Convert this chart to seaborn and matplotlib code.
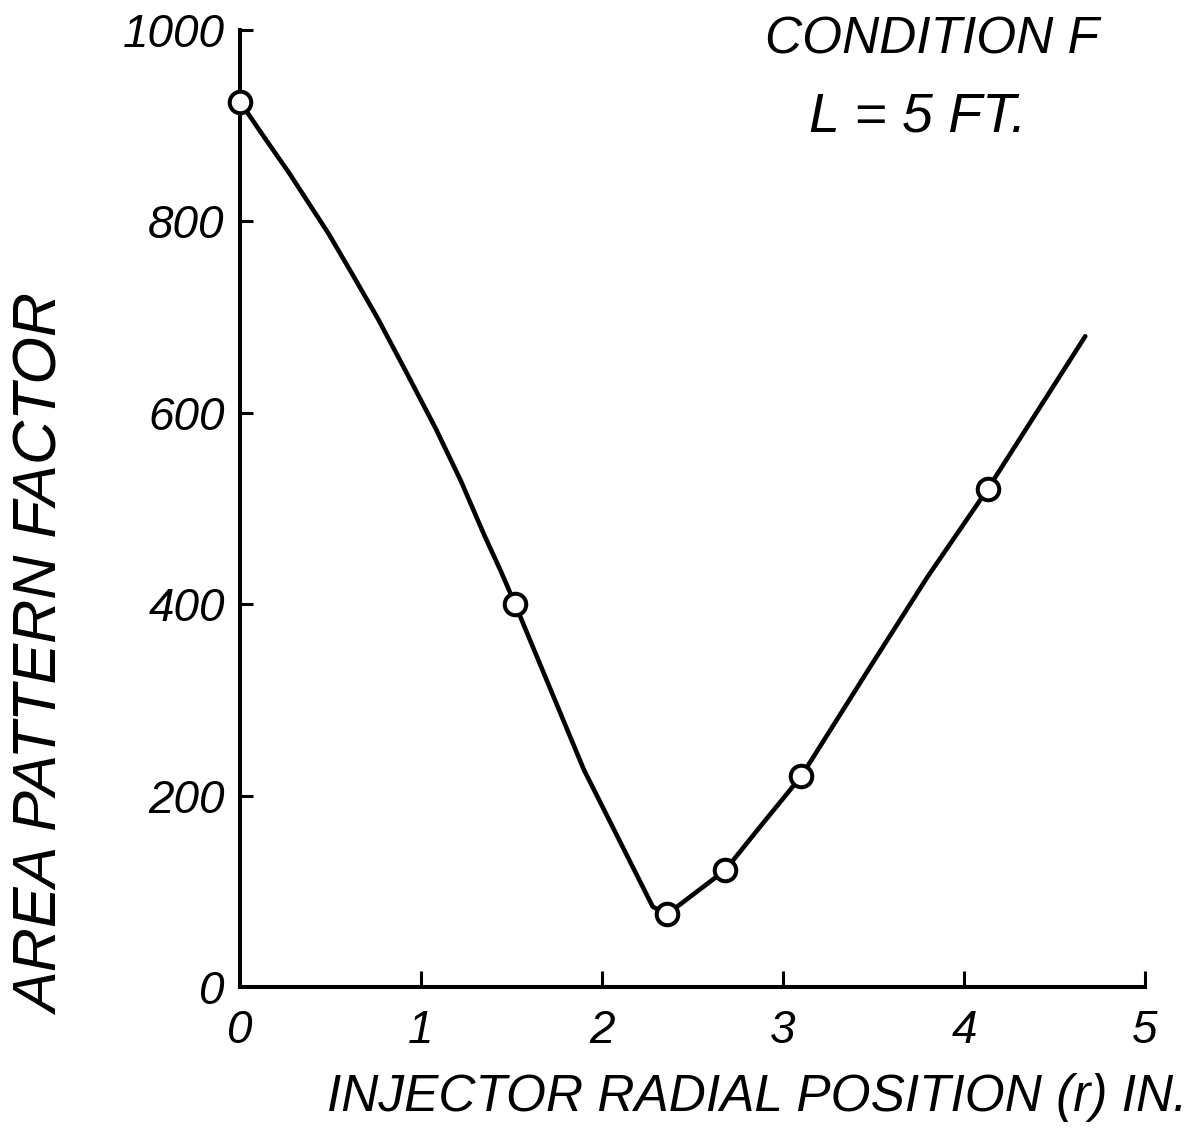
import matplotlib
matplotlib.use("Agg")
import matplotlib.pyplot as plt
import seaborn as sns

# ---- data ----
radial_position = [0.0, 1.52, 2.36, 2.68, 3.10, 4.13]
pattern_factor = [925, 400, 76, 122, 220, 520]

# hand-drawn fair curve
curve_position = [0.0, 0.13, 0.27, 0.38, 0.49, 0.62, 0.76, 0.92, 1.08, 1.22,
                  1.35, 1.44, 1.52, 1.90, 2.28, 2.36,
                  2.68, 2.88, 3.10, 3.50, 3.80, 4.13, 4.67]
curve_factor = [925, 889, 851, 819, 787, 745, 699, 642, 584, 529,
                472, 435, 400, 227, 84, 76,
                122, 169, 220, 340, 429, 520, 680]

x_ticks = [0, 1, 2, 3, 4, 5]
x_tick_labels = ["0", "1", "2", "3", "4", "5"]
y_ticks = [0, 200, 400, 600, 800, 1000]
y_tick_labels = ["0", "200", "400", "600", "800", "1000"]

title_line1 = "CONDITION F"
title_line2 = "L = 5 FT."
x_label = "INJECTOR RADIAL POSITION (r) IN."
y_label = "AREA PATTERN FACTOR"

# ---- style ----
sns.set_theme(style="ticks")
plt.rcParams["font.family"] = ["Liberation Sans", "DejaVu Sans"]
plt.rcParams["font.style"] = "italic"
plt.rcParams["text.color"] = "black"

W, H = 1202, 1132
fig = plt.figure(figsize=(W / 100, H / 100), dpi=100)
fig.patch.set_facecolor("white")
ax = fig.add_axes([240 / W, 1 - 987 / H, 905 / W, 957 / H])
ax.set_facecolor("white")

sns.lineplot(x=curve_position, y=curve_factor, sort=False, estimator=None,
             color="black", linewidth=3.3, ax=ax, clip_on=False, zorder=2)
sns.scatterplot(x=radial_position, y=pattern_factor, s=240, facecolor="white",
                edgecolor="black", linewidth=2.9, ax=ax, clip_on=False, zorder=3)

ax.set_xlim(0, 5)
ax.set_ylim(0, 1000)
ax.set_xticks(x_ticks)
ax.set_xticklabels(x_tick_labels)
ax.set_yticks(y_ticks)
ax.set_yticklabels(y_tick_labels)

sns.despine(ax=ax)
for side in ["left", "bottom"]:
    ax.spines[side].set_linewidth(2.9)
    ax.spines[side].set_color("black")

ax.tick_params(axis="x", direction="in", length=11.5, width=2.2, pad=16,
               labelsize=33, colors="black")
ax.tick_params(axis="y", direction="in", length=9, width=2.2, pad=11,
               labelsize=33, colors="black")
ax.xaxis.get_major_ticks()[0].tick1line.set_visible(False)
ax.yaxis.get_major_ticks()[0].tick1line.set_visible(False)
ax.set_xlabel("")
ax.set_ylabel("")

fig.text(932 / W, 1 - 40 / H, title_line1, ha="center", va="center",
         fontsize=37, color="black")
fig.text(918 / W, 1 - 118 / H, title_line2, ha="center", va="center",
         fontsize=40, color="black")
fig.text(757 / W, 1 - 1097 / H, x_label, ha="center", va="center",
         fontsize=37, color="black")
fig.text(44 / W, 1 - 655 / H, y_label, ha="center", va="center",
         rotation=90, fontsize=44, color="black")

fig.savefig("out.png", dpi=100, facecolor="white")
